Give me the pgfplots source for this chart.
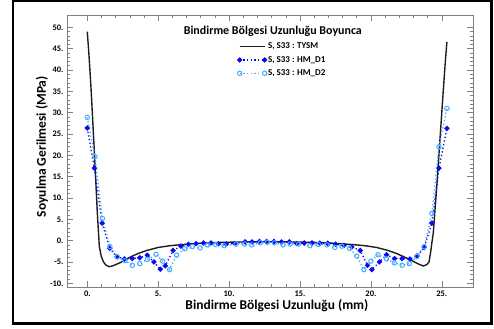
\documentclass[border=0pt]{standalone}
\usepackage{pgfplots}
\pgfplotsset{compat=1.18}
\usepackage{fontspec}
\setmainfont{Carlito}[BoldFont={Carlito Bold}]
\definecolor{dOne}{RGB}{10,10,245}
\definecolor{dTwo}{RGB}{70,172,255}
\definecolor{tysm}{RGB}{30,30,30}
\begin{document}
\begin{tikzpicture}
\path[use as bounding box] (0bp,0bp) rectangle (494bp,329bp);
\draw[line width=2.5bp] (13bp,5.5bp) rectangle (491.5bp,327.8bp);
\begin{axis}[
  at={(67bp,42bp)}, anchor=south west,
  scale only axis, width=406bp, height=272bp,
  xmin=-1.43, xmax=27.2, ymin=-10.87, ymax=52.9,
  xtick={0,5,10,15,20,25},
  xticklabels={0.,5.,10.,15.,20.,25.},
  ytick={-10,-5,0,5,10,15,20,25,30,35,40,45,50},
  yticklabels={-10.,-5.,0.,5.,10.,15.,20.,25.,30.,35.,40.,45.,50.},
  minor x tick num=4, minor y tick num=4,
  tick align=inside,
  major tick length=6bp, minor tick length=3bp,
  axis line style={draw=gray, line width=0.8bp},
  tick style={gray, line width=0.6bp},
  ticklabel style={font=\bfseries\fontsize{8.5}{9}\selectfont, text=black},
  xlabel={Bindirme Bölgesi Uzunluğu (mm)},
  ylabel={Soyulma Gerilmesi (MPa)},
  label style={font=\bfseries\fontsize{13.5}{15}\selectfont, text=black},
  xlabel style={at={(axis description cs:0.517,-0.07)}, anchor=center},
  ylabel style={at={(axis description cs:-0.062,0.516)}, anchor=center},
  legend style={at={(axis description cs:0.412,0.914)}, anchor=north west, draw=none, fill=none,
    font=\bfseries\fontsize{9}{10}\selectfont, text=black,
    nodes={inner sep=1.2bp, text height=7bp, text depth=2.5bp}, row sep=1.5bp},
  legend cell align=left,
  legend image code/.code={\draw[#1] plot coordinates {(0bp,0bp) (25bp,0bp)};},
]
\node[font=\bfseries\fontsize{12}{14}\selectfont, text=black, anchor=center] at (rel axis cs:0.507,0.94) {Bindirme Bölgesi Uzunluğu Boyunca};
\addplot[tysm, line width=1.4bp] coordinates {
(0,49)(0.13,43)(0.26,36)(0.42,25.9)(0.54,18.1)(0.71,6.4)(0.85,-1.4)(0.98,-3.6)(1.13,-4.9)(1.3,-5.7)(1.55,-6.1)(1.8,-5.9)(2.3,-5.2)(3.0,-3.9)(3.6,-3.0)(4.2,-2.3)(5.0,-1.6)(5.8,-1.2)(6.6,-0.95)(7.6,-0.7)(8.6,-0.5)(9.6,-0.4)(10.8,-0.32)(12.7,-0.28)(14.6,-0.32)(15.8,-0.4)(16.8,-0.5)(17.8,-0.7)(18.8,-0.95)(19.6,-1.2)(20.4,-1.6)(21.2,-2.3)(21.8,-3.0)(22.4,-3.9)(22.9,-4.7)(23.3,-5.4)(23.7,-5.95)(23.95,-5.6)(24.1,-5.0)(24.2,-3.0)(24.3,-0.5)(24.4,1.8)(24.66,13.4)(24.9,25.2)(25.1,35)(25.25,42)(25.36,46.6)
};
\addlegendentry{S, S33 : TYSM}
\addplot[dOne, line width=1.3bp, dash pattern=on 1.3bp off 2.4bp, mark=*, mark size=1.9bp, mark options={solid, fill=dOne}] coordinates {
(0,26.4)(0.5,17.0)(1.05,4.1)(1.58,-1.8)(2.1,-3.8)(2.63,-4.3)(3.17,-4.2)(3.7,-4.0)(4.23,-3.4)(4.7,-5.0)(5.15,-6.7)(5.5,-5.9)(6.05,-2.3)(6.6,-1.3)(7.13,-0.85)(7.67,-0.7)(8.19,-0.55)(8.72,-0.55)(9.25,-0.7)(9.8,-0.8)(10.4,-0.7)(11.13,-0.3)(11.62,-0.3)(12.14,-0.2)(12.65,-0.2)(13.17,-0.2)(13.7,-0.3)(14.25,-0.3)(14.78,-0.7)(15.3,-0.55)(15.85,-0.55)(16.4,-0.6)(16.95,-0.6)(17.5,-0.85)(18.1,-1.1)(18.66,-1.5)(19.25,-2.3)(19.76,-5.8)(20.07,-6.8)(20.6,-5.0)(21.1,-3.3)(21.67,-4.2)(22.2,-4.2)(22.75,-4.3)(23.25,-3.6)(23.76,-1.6)(24.3,4.1)(24.8,17.0)(25.36,26.3)
};
\addlegendentry{S, S33 : HM\_D1}
\addplot[dTwo, line width=1.3bp, dash pattern=on 1.3bp off 2.4bp, mark=o, mark size=2.2bp, mark options={solid, fill=white, line width=1bp}] coordinates {
(0,28.9)(0.54,19.7)(1.07,5.2)(1.6,-1.4)(2.12,-3.8)(2.66,-4.7)(3.18,-5.8)(3.7,-5.4)(4.24,-4.4)(4.85,-3.2)(5.3,-4.8)(5.8,-6.8)(6.3,-3.4)(6.87,-1.9)(7.4,-1.4)(7.95,-1.7)(8.5,-1.0)(9.05,-0.9)(9.65,-1.2)(10.5,-0.8)(11.1,-0.8)(11.6,-1.0)(12.2,-0.5)(12.7,-0.4)(13.2,-0.5)(13.8,-1.0)(14.3,-0.8)(14.9,-0.8)(15.7,-1.2)(16.3,-0.9)(16.9,-1.0)(17.45,-1.6)(17.95,-1.3)(18.5,-1.8)(19.0,-3.6)(19.5,-6.8)(20.0,-4.8)(20.5,-3.3)(21.1,-4.3)(21.65,-5.2)(22.2,-5.8)(22.7,-5.4)(23.25,-3.7)(23.76,-1.4)(24.3,6.4)(24.8,22.0)(25.36,31.0)
};
\addlegendentry{S, S33 : HM\_D2}
\end{axis}
\end{tikzpicture}
\end{document}
